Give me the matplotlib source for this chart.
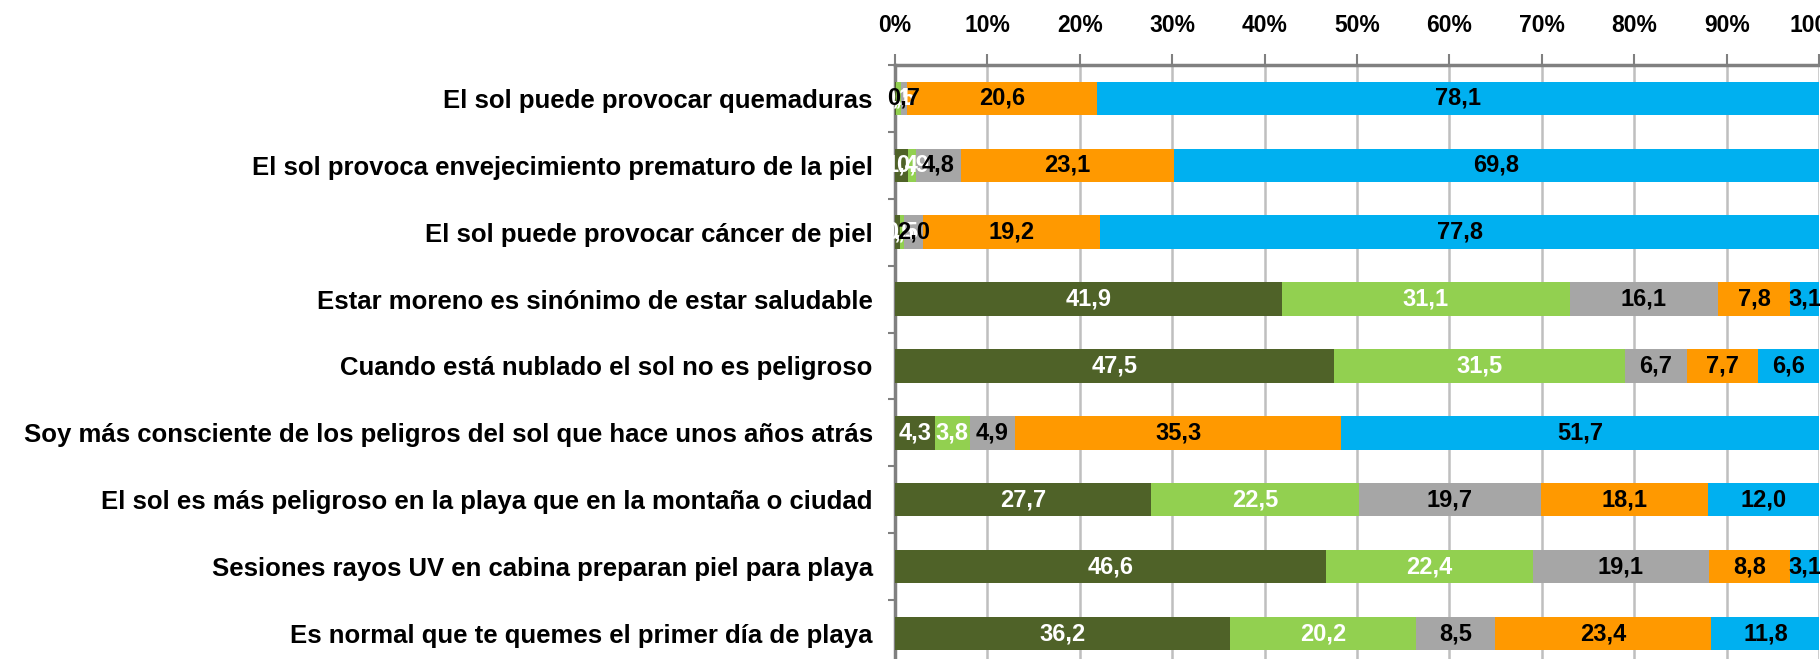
import matplotlib
matplotlib.use('Agg')
import matplotlib.pyplot as plt
import numpy as np

plt.rcParams['font.family'] = ['Liberation Sans', 'DejaVu Sans']
plt.rcParams['font.weight'] = 'bold'

statements = [
    'El sol puede provocar quemaduras',
    'El sol provoca envejecimiento prematuro de la piel',
    'El sol puede provocar cáncer de piel',
    'Estar moreno es sinónimo de estar saludable',
    'Cuando está nublado el sol no es peligroso',
    'Soy más consciente de los peligros del sol que hace unos años atrás',
    'El sol es más peligroso en la playa que en la montaña o ciudad',
    'Sesiones rayos UV en cabina preparan piel para playa',
    'Es normal que te quemes el primer día de playa',
]

# answer shares (%) per statement, from "nada" to "mucho"
nada = [0.1, 1.4, 0.5, 41.9, 47.5, 4.3, 27.7, 46.6, 36.2]
poco = [0.5, 0.9, 0.5, 31.1, 31.5, 3.8, 22.5, 22.4, 20.2]
regular = [0.7, 4.8, 2.0, 16.1, 6.7, 4.9, 19.7, 19.1, 8.5]
bastante = [20.6, 23.1, 19.2, 7.8, 7.7, 35.3, 18.1, 8.8, 23.4]
mucho = [78.1, 69.8, 77.8, 3.1, 6.6, 51.7, 12.0, 3.1, 11.8]

series = [nada, poco, regular, bastante, mucho]
colors = ['#4F6228', '#92D050', '#A6A6A6', '#FF9900', '#00B0F0']
text_colors = ['white', 'white', 'black', 'black', 'black']

fig = plt.figure(figsize=(18.2, 6.59), dpi=100)
ax = fig.add_axes([0.4918, -0.0121, 0.5077, 0.9135])

y = np.arange(len(statements))
left = np.zeros(len(statements))
for vals, col, tcol in zip(series, colors, text_colors):
    vals = np.array(vals)
    ax.barh(y, vals, left=left, height=0.5, color=col, zorder=3)
    for yi, (l, v) in enumerate(zip(left, vals)):
        ax.text(l + v / 2, yi, f'{v:.1f}'.replace('.', ','), ha='center', va='center',
                color=tcol, fontsize=17, fontweight='bold', zorder=4)
    left += vals

ax.set_xlim(0, 100)
ax.set_ylim(len(statements) - 0.5, -0.5)

ax.xaxis.tick_top()
ax.set_xticks(np.arange(0, 101, 10))
ax.set_xticklabels([f'{v}%' for v in range(0, 101, 10)])
ax.tick_params(axis='x', length=8, width=1.5, color='#808080', pad=12, labelsize=16.5)

ax.set_yticks(y)
ax.set_yticklabels(statements, fontsize=18.5)
ax.tick_params(axis='y', which='major', length=0, pad=16)
ax.set_yticks(np.arange(-0.5, len(statements), 1), minor=True)
ax.tick_params(axis='y', which='minor', length=5, width=1.5, color='#808080')

ax.grid(axis='x', color='#BFBFBF', linewidth=1.8, zorder=0)
for side in ['right', 'bottom']:
    ax.spines[side].set_visible(False)
for side in ['top', 'left']:
    ax.spines[side].set_color('#808080')
    ax.spines[side].set_linewidth(2.5)

fig.savefig('out.png', dpi=100)
